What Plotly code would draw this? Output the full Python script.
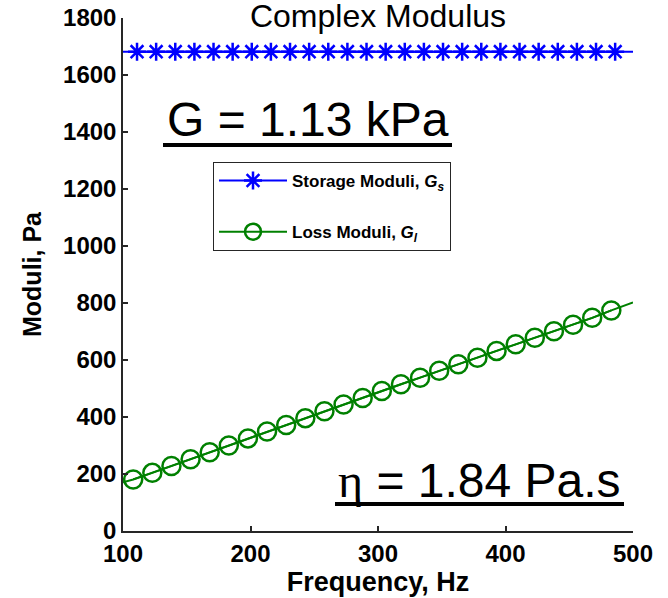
import plotly.graph_objects as go

# Frequency sweep, Hz
freq_line = [100, 500]
storage_line = [1682, 1682]

# Marker positions for each series
freq_storage_marks = [111, 126, 141, 156, 171, 186, 201, 216, 231, 246, 261, 276, 291,
                      306, 321, 336, 351, 366, 381, 396, 411, 426, 441, 456, 471, 486]
storage_marks = [1682] * 26

freq_loss = [100, 108, 123, 138, 153, 168, 183, 198, 213, 228, 243, 258, 273, 288,
             303, 318, 333, 348, 363, 378, 393, 408, 423, 438, 453, 468, 483, 500]
loss_vals = [171, 181, 204, 228, 252, 276, 300, 325, 349, 372, 396, 420, 444, 467,
             491, 515, 538, 562, 585, 608, 632, 655, 678, 701, 724, 748, 774, 802]

x_ticks = [100, 200, 300, 400, 500]
y_ticks = [0, 200, 400, 600, 800, 1000, 1200, 1400, 1600, 1800]

BLUE = "#0000FF"
GREEN = "#008000"
AXIS = "#262626"
FONT = "Liberation Sans"

fig = go.Figure()

# Storage modulus: continuous line plus starred markers
fig.add_trace(go.Scatter(x=freq_line, y=storage_line, mode="lines",
                         line=dict(color=BLUE, width=2), showlegend=False,
                         hoverinfo="skip"))
fig.add_trace(go.Scatter(x=freq_storage_marks, y=storage_marks, mode="lines+markers",
                         line=dict(color=BLUE, width=2), legendgroup="storage",
                         marker=dict(symbol="asterisk-open", size=15,
                                     line=dict(color=BLUE, width=2.5)),
                         name="<b>Storage Moduli, <i>G</i><sub><i>s</i></sub></b>"))

# Loss modulus: line through the data with open circles at the samples
fig.add_trace(go.Scatter(x=freq_loss, y=loss_vals, mode="lines",
                         line=dict(color=GREEN, width=2), showlegend=False,
                         hoverinfo="skip"))
fig.add_trace(go.Scatter(x=freq_loss[1:-1], y=loss_vals[1:-1], mode="lines+markers",
                         line=dict(color=GREEN, width=2), legendgroup="loss",
                         marker=dict(symbol="circle-open", size=18,
                                     line=dict(color=GREEN, width=2.5)),
                         name="<b>Loss Moduli, <i>G</i><sub><i>l</i></sub></b>"))

axis_common = dict(showline=True, linecolor=AXIS, linewidth=1.5, mirror=False,
                   ticks="inside", ticklen=5, tickwidth=1.5, tickcolor=AXIS,
                   showgrid=False, zeroline=False, automargin=False,
                   tickfont=dict(family=FONT, size=24, color="black", weight="bold"))

fig.update_xaxes(range=[100, 500], tickvals=x_ticks,
                 title=dict(text="Frequency, Hz", standoff=2,
                            font=dict(family=FONT, size=27, color="black", weight="bold")),
                 **axis_common)
fig.update_yaxes(range=[0, 1800], tickvals=y_ticks,
                 title=dict(text="Moduli, Pa", standoff=14,
                            font=dict(family=FONT, size=25, color="black", weight="bold")),
                 **axis_common)

# Underlined value annotations
fig.add_annotation(text="G = 1.13 kPa", xref="paper", yref="paper",
                   x=0.362, y=0.803, xanchor="center", yanchor="middle",
                   showarrow=False, font=dict(family=FONT, size=48, color="black"))
fig.add_annotation(text="<span style=\"font-family:Liberation Serif\">η</span> = 1.84 Pa.s",
                   xref="paper", yref="paper",
                   x=0.699, y=0.0975, xanchor="center", yanchor="middle",
                   showarrow=False, font=dict(family=FONT, size=48, color="black"))
fig.add_shape(type="line", xref="paper", yref="paper",
              x0=(163 - 123) / 510, x1=(452 - 123) / 510,
              y0=(531 - 145) / 513, y1=(531 - 145) / 513,
              line=dict(color="black", width=4))
fig.add_shape(type="line", xref="paper", yref="paper",
              x0=(335 - 123) / 510, x1=(624 - 123) / 510,
              y0=(531 - 504) / 513, y1=(531 - 504) / 513,
              line=dict(color="black", width=4))

fig.update_layout(
    width=668, height=598,
    margin=dict(l=123, r=35, t=18, b=67),
    paper_bgcolor="white", plot_bgcolor="white",
    title=dict(text="Complex Modulus", x=0.5, xref="paper", y=1 - 16 / 598,
               yanchor="middle", font=dict(family=FONT, size=32, color="black")),
    legend=dict(x=(213 - 123) / 510, y=(531 - 162) / 513, xanchor="left", yanchor="top",
                bordercolor=AXIS, borderwidth=1, bgcolor="white",
                font=dict(family=FONT, size=17, color="black"),
                traceorder="grouped", tracegroupgap=26, itemwidth=68),
    showlegend=True,
)

fig.write_html("out.html")
